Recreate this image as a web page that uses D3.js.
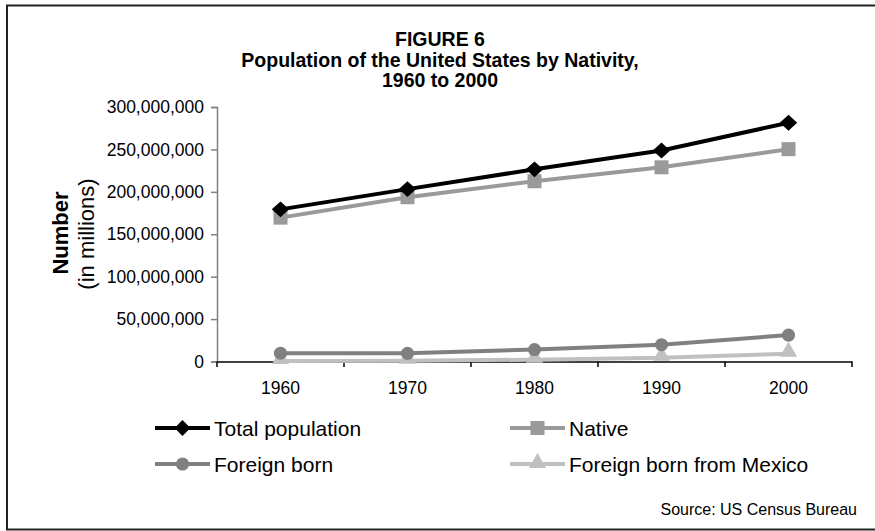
<!DOCTYPE html>
<html><head><meta charset="utf-8">
<script src="https://cdn.jsdelivr.net/npm/d3@7"></script>
<style>
body{margin:0;background:#fff;}
svg{display:block;font-family:"Liberation Sans",Arial,sans-serif;}
</style></head>
<body>
<svg id="c" width="875" height="531"></svg>
<script>
const categories = ["1960","1970","1980","1990","2000"];
const totalPop = [179323175, 203211926, 226545805, 248709873, 281421906];
const nativePop = [169587580, 193622810, 212465899, 228942557, 250314017];
const foreignBorn = [9738091, 9619302, 14079906, 19767316, 31107889];
const foreignMexico = [575902, 759711, 2199221, 4298014, 9177487];
const yTicks = [0, 50000000, 100000000, 150000000, 200000000, 250000000, 300000000];
const titleLines = ["FIGURE 6", "Population of the United States by Nativity,", "1960 to 2000"];

const series = [
  {name:"Total population", values: totalPop, color:"#000000", shape:"diamond"},
  {name:"Native", values: nativePop, color:"#9a9a9a", shape:"square"},
  {name:"Foreign born", values: foreignBorn, color:"#808080", shape:"circle"},
  {name:"Foreign born from Mexico", values: foreignMexico, color:"#c0c0c0", shape:"triangle"}
];

const svg = d3.select("#c");
svg.append("rect").attr("x",7).attr("y",5.5).attr("width",880).attr("height",524)
  .attr("fill","#fff").attr("stroke","#222").attr("stroke-width",2);

const x = d3.scaleBand().domain(categories).range([217, 852]);
const y = d3.scaleLinear().domain([0, 300000000]).range([361.5, 107]);

// title
svg.append("g").selectAll("text").data(titleLines).join("text")
  .attr("x", 440).attr("y", (d,i)=>46 + i*20.5)
  .attr("text-anchor","middle").attr("font-weight","bold").attr("font-size",19.5)
  .text(d=>d);

// y axis
const yAxis = svg.append("g").attr("transform","translate(217,0)")
  .call(d3.axisLeft(y).tickValues(yTicks).tickFormat(d3.format(",")).tickSize(6).tickPadding(7));
yAxis.select(".domain").attr("stroke","#808080").attr("stroke-width",1.5);
yAxis.selectAll(".tick line").attr("stroke","#808080").attr("stroke-width",1.5);
yAxis.selectAll("text").attr("font-size",17.5).attr("fill","#000")
  .attr("font-family","'Liberation Sans',Arial,sans-serif");

// x axis
const xAxis = svg.append("g").attr("transform","translate(0,361.5)")
  .call(d3.axisBottom(x).tickSize(0).tickPadding(20));
xAxis.select(".domain").attr("stroke","#000").attr("stroke-width",1.5);
xAxis.selectAll("text").attr("font-size",17.5).attr("fill","#000")
  .attr("font-family","'Liberation Sans',Arial,sans-serif");
// tick marks at category boundaries
const bounds = categories.map(c=>x(c)).concat([x.range()[1]]);
svg.append("g").selectAll("line").data(bounds).join("line")
  .attr("x1",d=>d).attr("x2",d=>d).attr("y1",361.5).attr("y2",367)
  .attr("stroke","#000").attr("stroke-width",1.5);

// y title
svg.append("text").attr("transform","translate(68,233) rotate(-90)")
  .attr("text-anchor","middle").attr("font-weight","bold").attr("font-size",22).text("Number");
svg.append("text").attr("transform","translate(94,234) rotate(-90)")
  .attr("text-anchor","middle").attr("font-size",22).text("(in millions)");

const cx = c => x(c) + x.bandwidth()/2;
const symbols = {
  diamond: d3.symbol().type(d3.symbolDiamond2).size(160),
  square: d3.symbol().type(d3.symbolSquare).size(196),
  circle: d3.symbol().type(d3.symbolCircle).size(135),
  triangle: d3.symbol().type(d3.symbolTriangle).size(130)
};
const line = d3.line().x((d,i)=>cx(categories[i])).y(d=>y(d));

// draw in reverse so total is on top
[...series].reverse().forEach(s=>{
  const g = svg.append("g");
  g.append("path").attr("d", line(s.values)).attr("fill","none")
    .attr("stroke", s.color).attr("stroke-width",4).attr("stroke-linejoin","round");
  g.selectAll("path.m").data(s.values).join("path").attr("class","m")
    .attr("d", symbols[s.shape]())
    .attr("transform",(d,i)=>`translate(${cx(categories[i])},${y(d) + (s.shape==="triangle"?-2:0)})${s.shape==="diamond"?" scale(1.1,1)":""}`)
    .attr("fill", s.color);
});

// legend
const legendPos = [[155,428],[510,428],[155,464],[510,464]];
series.forEach((s,i)=>{
  const [lx,ly] = legendPos[i];
  const g = svg.append("g");
  g.append("line").attr("x1",lx).attr("x2",lx+55).attr("y1",ly).attr("y2",ly)
    .attr("stroke",s.color).attr("stroke-width",4);
  g.append("path").attr("d", symbols[s.shape]())
    .attr("transform",`translate(${lx+27.5},${ly + (s.shape==="triangle"?-1:0)})`)
    .attr("fill",s.color);
  g.append("text").attr("x",lx+59).attr("y",ly+7.5).attr("font-size",21).text(s.name);
});

// source
svg.append("text").attr("x",857).attr("y",515).attr("text-anchor","end")
  .attr("font-size",16).text("Source: US Census Bureau");
</script>
</body></html>
